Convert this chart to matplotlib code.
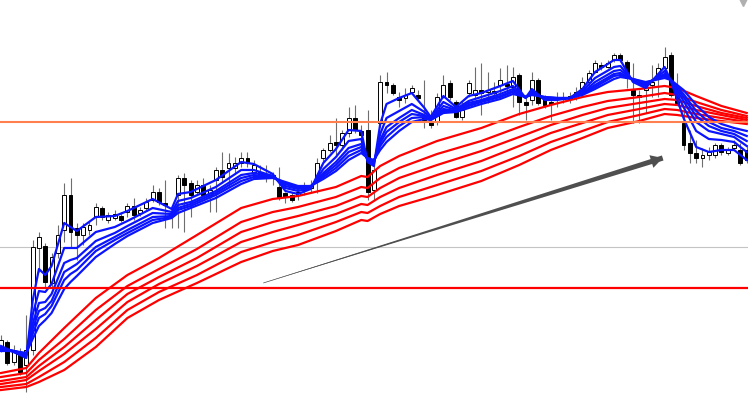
import matplotlib

matplotlib.use("Agg")
import matplotlib.pyplot as plt
import numpy as np

# candle data (bar index 0..118, price in chart units)
opens = [50, 58, 38, 48, 35, 50, 152, 154, 117, 147,
         170, 205, 172, 165, 170, 183, 192, 180, 182, 184,
         188, 194, 187, 192, 200, 208, 197, 187, 205, 222,
         217, 208, 215, 205, 220, 230, 232, 232, 237, 242,
         228, 228, 225, 222, 213, 207, 205, 205, 210, 212,
         222, 242, 250, 258, 255, 267, 282, 269, 270, 210,
         277, 318, 315, 303, 302, 308, 305, 282, 278, 278,
         303, 317, 298, 283, 307, 305, 310, 308, 309, 315,
         316, 313, 325, 298, 300, 320, 302, 298, 301, 303,
         301, 305, 312, 318, 328, 335, 333, 340, 345, 338,
         310, 305, 310, 315, 322, 332, 345, 305, 277, 257,
         247, 242, 245, 245, 255, 247, 252, 250, 250]
highs = [65, 60, 55, 52, 85, 160, 168, 157, 147, 175,
         217, 222, 177, 177, 178, 197, 194, 188, 190, 188,
         197, 202, 193, 202, 215, 212, 220, 190, 225, 227,
         220, 220, 222, 215, 233, 248, 247, 243, 248, 248,
         240, 235, 235, 228, 233, 208, 208, 213, 218, 220,
         242, 252, 265, 282, 270, 293, 295, 275, 290, 240,
         325, 328, 317, 308, 312, 315, 310, 320, 290, 307,
         325, 320, 300, 300, 320, 333, 337, 328, 318, 332,
         335, 333, 327, 303, 328, 322, 305, 300, 308, 308,
         308, 313, 323, 330, 340, 338, 340, 347, 347, 340,
         337, 310, 317, 335, 337, 353, 348, 327, 293, 270,
         260, 252, 253, 257, 257, 253, 260, 257, 255]
lows = [48, 35, 35, 25, 8, 45, 128, 112, 112, 142,
        158, 153, 140, 155, 165, 175, 180, 177, 180, 178,
        183, 180, 184, 190, 198, 195, 172, 172, 172, 168,
        183, 205, 203, 188, 188, 217, 213, 227, 233, 233,
        225, 222, 218, 215, 200, 197, 198, 200, 205, 208,
        207, 238, 248, 245, 250, 263, 267, 257, 200, 200,
        273, 307, 305, 293, 297, 307, 300, 272, 272, 275,
        302, 300, 282, 280, 303, 302, 285, 297, 302, 305,
        305, 293, 285, 280, 295, 295, 292, 280, 293, 297,
        297, 300, 310, 313, 327, 330, 332, 338, 338, 312,
        277, 277, 287, 303, 303, 328, 303, 297, 250, 237,
        237, 233, 240, 242, 245, 245, 250, 235, 237]
closes = [60, 37, 48, 28, 50, 153, 163, 118, 143, 165,
          205, 168, 165, 173, 175, 193, 183, 185, 186, 180,
          194, 185, 190, 198, 208, 198, 195, 184, 222, 215,
          205, 215, 205, 210, 230, 223, 237, 237, 242, 238,
          235, 225, 223, 225, 203, 203, 200, 208, 213, 215,
          237, 250, 257, 255, 267, 282, 270, 265, 208, 230,
          318, 315, 307, 300, 305, 312, 302, 278, 275, 303,
          315, 303, 283, 290, 317, 310, 307, 310, 307, 320,
          314, 323, 298, 295, 320, 297, 295, 296, 303, 301,
          304, 308, 318, 327, 337, 333, 337, 345, 340, 322,
          305, 303, 313, 318, 332, 343, 305, 297, 255, 247,
          242, 245, 248, 255, 248, 250, 255, 237, 240]

# fast band (blue), read at these bar indices
fast_bars = [0, 2, 4, 5, 6, 7, 8, 10, 11, 12, 15, 18, 20, 24, 27, 28, 30, 34, 38, 40,
             43, 45, 47, 49, 51, 53, 55, 57, 58, 59, 60, 61, 63, 65, 67, 68, 70, 72, 74, 76,
             79, 81, 83, 84, 86, 88, 90, 92, 94, 97, 98, 100, 102, 105, 106, 108, 110, 112, 114, 116,
             118]
fast_1 = [54, 48, 42, 99, 131, 125, 134, 177, 173, 169, 183, 184, 189, 201, 191, 206, 208, 220, 238, 236,
          226, 209, 206, 211, 237, 251, 270, 269, 238, 234, 276, 296, 302, 307, 292, 283, 304, 293, 304, 307,
          314, 319, 302, 311, 300, 300, 302, 311, 328, 340, 340, 318, 312, 333, 319, 282, 253, 248, 250, 250,
          240]
fast_2 = [52, 48, 44, 85, 109, 108, 116, 152, 152, 152, 168, 173, 179, 192, 188, 199, 202, 213, 230, 230,
          224, 212, 209, 212, 231, 243, 259, 261, 240, 236, 266, 282, 289, 296, 288, 282, 298, 291, 299, 303,
          309, 314, 302, 309, 301, 301, 302, 309, 322, 333, 334, 319, 314, 329, 319, 293, 269, 261, 260, 258,
          248]
fast_3 = [52, 49, 45, 76, 97, 98, 106, 137, 140, 142, 159, 167, 174, 187, 186, 195, 198, 209, 225, 227,
          224, 214, 211, 213, 227, 238, 252, 256, 240, 238, 260, 273, 282, 290, 285, 281, 294, 290, 297, 300,
          306, 311, 303, 307, 302, 301, 302, 307, 318, 329, 330, 320, 316, 326, 320, 299, 278, 269, 266, 263,
          254]
fast_4 = [51, 49, 46, 71, 89, 92, 99, 128, 132, 136, 153, 163, 170, 183, 184, 192, 196, 207, 222, 225,
          223, 216, 212, 213, 225, 235, 248, 253, 241, 238, 257, 268, 278, 286, 284, 281, 291, 289, 295, 299,
          304, 309, 303, 307, 302, 301, 302, 307, 315, 326, 327, 320, 316, 325, 320, 303, 284, 274, 269, 266,
          259]
fast_5 = [51, 49, 46, 66, 82, 86, 94, 120, 126, 130, 149, 160, 167, 180, 183, 190, 194, 205, 219, 223,
          223, 217, 213, 214, 223, 232, 244, 250, 241, 239, 254, 263, 274, 282, 283, 280, 289, 289, 294, 298,
          303, 308, 303, 306, 303, 302, 302, 306, 313, 324, 325, 321, 317, 324, 320, 306, 289, 278, 272, 269,
          264]
fast_6 = [49, 49, 47, 61, 74, 80, 87, 111, 118, 124, 143, 156, 164, 177, 182, 187, 192, 202, 216, 221,
          222, 218, 214, 214, 221, 229, 240, 247, 242, 240, 250, 258, 269, 278, 281, 280, 287, 288, 292, 296,
          301, 306, 303, 305, 303, 302, 302, 305, 311, 321, 323, 321, 318, 322, 320, 310, 295, 283, 276, 272,
          269]

# slow band (red)
slow_bars = [0, 4, 6, 10, 15, 20, 25, 31, 38, 43, 47, 53, 57, 58, 60, 63, 69, 76, 82, 87,
             92, 96, 101, 105, 107, 110, 114, 118]
slow_1 = [27, 32, 47, 72, 102, 125, 142, 165, 192, 201, 204, 213, 224, 223, 234, 244, 259, 272, 286, 295,
          303, 308, 311, 314, 312, 304, 294, 287]
slow_2 = [23, 27, 40, 61, 90, 114, 131, 151, 178, 188, 193, 203, 213, 212, 222, 232, 246, 259, 273, 284,
          293, 299, 303, 307, 305, 298, 290, 284]
slow_3 = [19, 23, 34, 53, 80, 106, 123, 142, 168, 178, 184, 194, 204, 203, 212, 222, 235, 249, 263, 275,
          285, 292, 297, 301, 300, 294, 287, 282]
slow_4 = [16, 20, 29, 46, 71, 98, 116, 134, 158, 168, 175, 186, 196, 195, 203, 212, 225, 239, 254, 267,
          277, 285, 291, 296, 295, 290, 285, 280]
slow_5 = [13, 16, 23, 38, 62, 90, 108, 125, 148, 158, 165, 178, 188, 187, 194, 203, 215, 229, 244, 258,
          269, 278, 285, 291, 290, 286, 282, 278]
slow_6 = [10, 13, 18, 30, 53, 82, 100, 117, 138, 149, 155, 169, 180, 179, 186, 194, 205, 219, 235, 250,
          262, 272, 279, 286, 285, 282, 279, 276]

# horizontal levels
resistance_level = 278
support_level = 112
grid_level = 153

# trend arrow (bar, price)
arrow_start = (41.5, 117)
arrow_end = (104.7, 242)


def draw_candles(ax):
    x = np.arange(len(opens))
    o = np.array(opens)
    c = np.array(closes)
    up = c >= o
    bottom = np.minimum(o, c)
    height = np.maximum(np.abs(c - o), 1.2)
    ax.vlines(x, lows, highs, color="#6e6e6e", linewidth=0.8, zorder=1)
    ax.bar(x[up], height[up], bottom=bottom[up], width=0.62, color="white",
           edgecolor="black", linewidth=0.7, zorder=2)
    ax.bar(x[~up], height[~up], bottom=bottom[~up], width=0.62, color="black",
           edgecolor="black", linewidth=0.7, zorder=2)


def draw_arrow(ax):
    # tapering shaft: zero width at the start, widest at the head
    ax.annotate("", xy=arrow_start, xytext=arrow_end,
                arrowprops=dict(arrowstyle="wedge,tail_width=0.38,shrink_factor=0.5",
                                color="#4f4f4f", linewidth=0, shrinkA=0, shrinkB=0),
                zorder=6)
    ax.annotate("", xy=arrow_end, xytext=arrow_start,
                arrowprops=dict(arrowstyle="simple,head_length=0.85,head_width=0.95,tail_width=0.05",
                                color="#4f4f4f", linewidth=0, shrinkA=0, shrinkB=0),
                zorder=6)


def main():
    fig = plt.figure(figsize=(7.48, 3.94), dpi=100)
    ax = fig.add_axes([0, 0, 1, 1])
    ax.set_xlim(-0.16, 118.2)
    ax.set_ylim(6, 400)
    ax.axis("off")

    ax.axhline(grid_level, color="#c4c4c4", linewidth=0.8, zorder=0)
    draw_candles(ax)

    for series in [slow_6, slow_5, slow_4, slow_3, slow_2, slow_1]:
        ax.plot(slow_bars, series, color="#ff0000", linewidth=1.6, zorder=3)
    for series in [fast_6, fast_5, fast_4, fast_3, fast_2, fast_1]:
        ax.plot(fast_bars, series, color="#0a14ff", linewidth=1.6, zorder=4)

    ax.axhline(resistance_level, color="#ff7f50", linewidth=1.5, zorder=5)
    ax.axhline(support_level, color="#ff0000", linewidth=1.6, zorder=5)

    draw_arrow(ax)

    ax.plot([117.4], [398], marker="v", markersize=6, color="#b0b0b0", clip_on=False, zorder=6)

    fig.savefig("out.png", dpi=100)
    plt.close(fig)


if __name__ == "__main__":
    main()
